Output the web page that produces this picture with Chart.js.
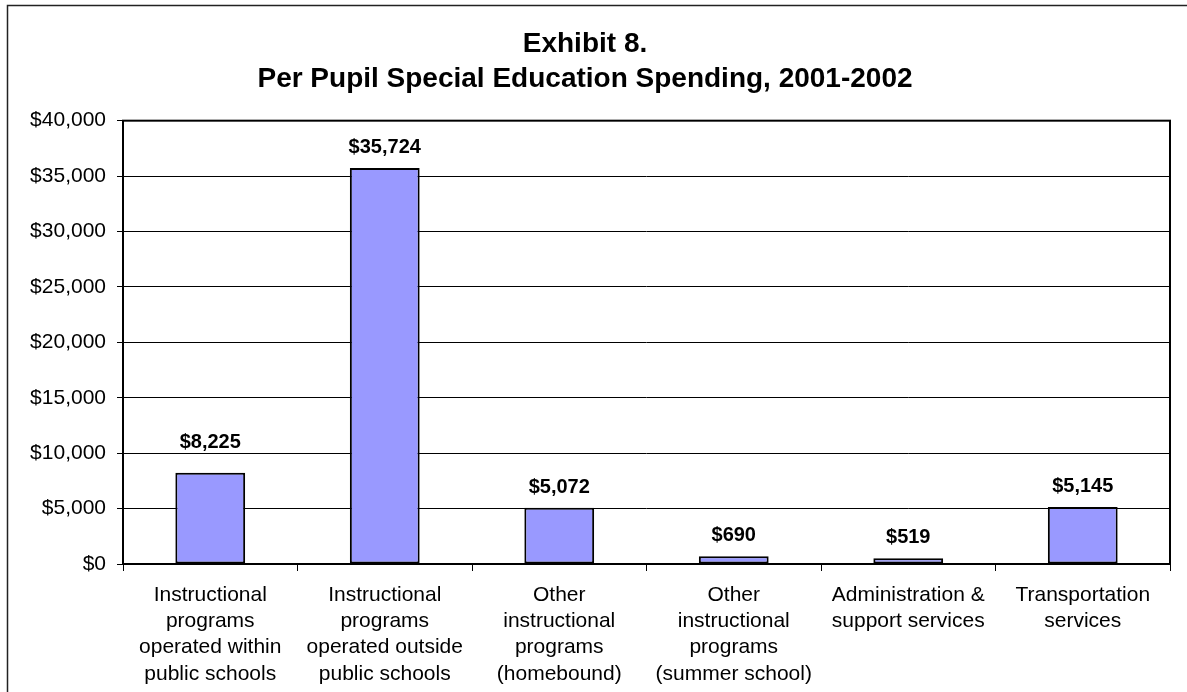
<!DOCTYPE html>
<html>
<head>
<meta charset="utf-8">
<title>Per Pupil Special Education Spending, 2001-2002</title>
<script src="https://cdn.jsdelivr.net/npm/chart.js@4/dist/chart.umd.min.js"></script>
<style>
  html, body { margin: 0; padding: 0; background: #fff; }
  #wrap { width: 1187px; height: 692px; position: relative; }
</style>
</head>
<body>
<div id="wrap"><canvas id="chart" width="1187" height="692"></canvas></div>
<script>
// Spending categories (multi-line axis labels)
const categories = [
  ['Instructional', 'programs', 'operated within', 'public schools'],
  ['Instructional', 'programs', 'operated outside', 'public schools'],
  ['Other', 'instructional', 'programs', '(homebound)'],
  ['Other', 'instructional', 'programs', '(summer school)'],
  ['Administration &', 'support services'],
  ['Transportation', 'services']
];

// Per pupil spending in dollars
const spending = [8225, 35724, 5072, 690, 519, 5145];

const titleLines = ['Exhibit 8.', 'Per Pupil Special Education Spending, 2001-2002'];

const FONT = "Arial, 'Liberation Sans', Helvetica, sans-serif";
const money = v => '$' + Number(v).toLocaleString('en-US');

// Outer frame around the whole figure and a box around the plotting area
const framePlugin = {
  id: 'frame',
  beforeDraw(chart) {
    const ctx = chart.ctx;
    ctx.save();
    ctx.fillStyle = '#fff';
    ctx.fillRect(0, 0, chart.width, chart.height);
    ctx.strokeStyle = '#222';
    ctx.lineWidth = 1.5;
    ctx.beginPath();
    ctx.moveTo(7.5, chart.height + 2);
    ctx.lineTo(7.5, 5.5);
    ctx.lineTo(chart.width + 2, 5.5);
    ctx.stroke();
    ctx.restore();
  },
  afterDatasetsDraw(chart) {
    const a = chart.chartArea;
    const ctx = chart.ctx;
    ctx.save();
    ctx.strokeStyle = '#000';
    ctx.lineWidth = 2;
    ctx.strokeRect(a.left, a.top, a.right - a.left, a.bottom - a.top);
    ctx.restore();
  }
};

// Dollar value printed above each bar; a label that would sit on a
// gridline is lifted just above that line so it stays readable.
const valueLabels = {
  id: 'valueLabels',
  afterDraw(chart) {
    const ctx = chart.ctx;
    const meta = chart.getDatasetMeta(0);
    const yScale = chart.scales.y;
    const gridYs = yScale.ticks.map(t => yScale.getPixelForValue(t.value));
    const capH = 15;
    ctx.save();
    ctx.font = 'bold 20px ' + FONT;
    ctx.fillStyle = '#000';
    ctx.textAlign = 'center';
    ctx.textBaseline = 'alphabetic';
    meta.data.forEach((bar, i) => {
      let base = bar.y - 15;
      const hit = gridYs.find(g => g >= base - capH - 2 && g <= base + 2);
      if (hit !== undefined) base = hit - 5;
      ctx.fillText(money(spending[i]), bar.x, base);
    });
    ctx.restore();
  }
};

new Chart(document.getElementById('chart'), {
  type: 'bar',
  data: {
    labels: categories,
    datasets: [{
      data: spending,
      backgroundColor: '#9999FF',
      borderColor: '#000',
      borderWidth: 2,
      borderSkipped: false,
      barPercentage: 0.4,
      categoryPercentage: 1.0
    }]
  },
  options: {
    responsive: false,
    animation: false,
    devicePixelRatio: 1,
    layout: { padding: { left: 0, right: 17, top: 0, bottom: 0 } },
    plugins: {
      legend: { display: false },
      tooltip: { enabled: false },
      title: {
        display: true,
        text: titleLines,
        color: '#000',
        font: { family: FONT, size: 28, weight: 'bold', lineHeight: 1.28 },
        padding: { top: 26, bottom: 23 }
      }
    },
    scales: {
      x: {
        offset: true,
        border: { display: false },
        grid: {
          offset: true,
          drawOnChartArea: false,
          drawTicks: true,
          tickLength: 7,
          color: '#000',
          lineWidth: 1
        },
        ticks: {
          color: '#000',
          font: { family: FONT, size: 21, lineHeight: 1.25 },
          padding: 11,
          maxRotation: 0,
          autoSkip: false
        },
        afterFit(scale) { scale.height = 128; }
      },
      y: {
        min: 0,
        max: 40000,
        border: { display: false },
        grid: {
          color: '#000',
          lineWidth: 1,
          drawTicks: true,
          tickLength: 6
        },
        ticks: {
          stepSize: 5000,
          color: '#000',
          font: { family: FONT, size: 21 },
          padding: 11,
          callback: v => money(v)
        },
        afterFit(scale) { scale.width = 123; }
      }
    }
  },
  plugins: [framePlugin, valueLabels]
});
</script>
</body>
</html>
